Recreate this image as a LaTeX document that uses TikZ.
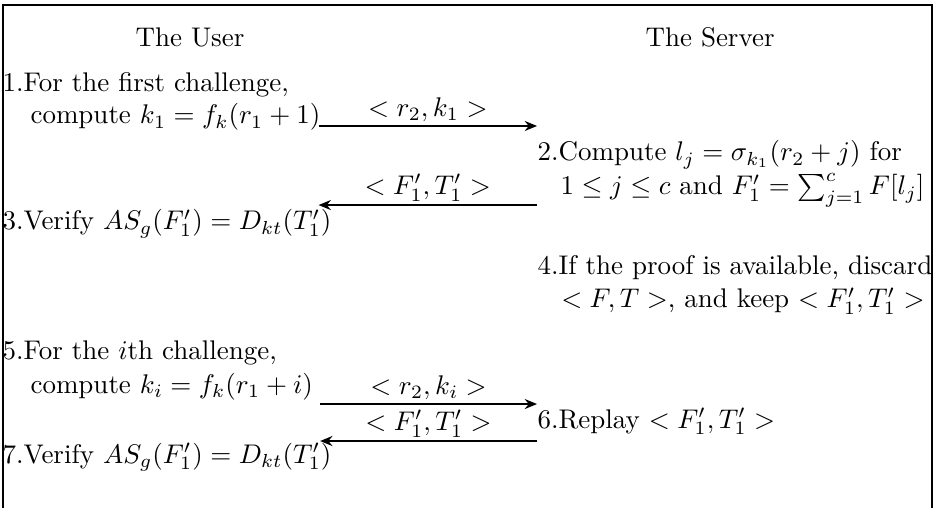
\documentclass[tikz,border=0pt]{standalone}
\usepackage{amsmath}
\usepackage{amssymb}
\usetikzlibrary{arrows.meta}

\begin{document}
\begin{tikzpicture}[
    txt/.style={inner sep=0pt, anchor=base west},
    txtr/.style={inner sep=0pt, anchor=base east},
    msg/.style={line width=0.9pt, -{Stealth[length=1.6mm,width=1.3mm]}},
    lbl/.style={above, inner sep=1pt},
    frame/.style={line width=0.7pt}]
            \useasboundingbox (0,0) rectangle (12.18,-6.618);
            % Frame (open at the bottom)
            \draw[frame] (0.039,-6.618) |- (12.142,-0.065) -- (12.142,-6.618);
            % Headings
            \node[inner sep=0pt, anchor=base] (user) at (2.475,-0.612) {The User};
            \node[inner sep=0pt, anchor=base] (server) at (9.25,-0.612) {The Server};
            % User side
            \node[txt] (u1) at (0.026,-1.186) {1.For the first challenge,};
            \node[txt] (u2) at (0.391,-1.615) {compute $k_1=f_k(r_1+1)$};
            \node[txt] (u3) at (0.026,-2.996) {3.Verify $AS_g(F'_1)=D_{kt}(T'_1)$};
            \node[txt] (u5) at (0.026,-4.677) {5.For the $i$th challenge,};
            \node[txt] (u6) at (0.391,-5.120) {compute $k_i=f_k(r_1+i)$};
            \node[txt] (u7) at (0.026,-6.032) {7.Verify $AS_g(F'_1)=D_{kt}(T'_1)$};
            % Server side
            \node[txt] (s2) at (6.996,-2.097) {2.Compute $l_j=\sigma_{k_1}(r_2+j)$ for};
            \node[txtr] (s2b) at (12.05,-2.540) {$1\leq j\leq c$ and $F'_1=\sum_{j=1}^{c}F[l_j]$};
            \node[txt] (s4) at (6.996,-3.570) {4.If the proof is available, discard};
            \node[txtr] (s4b) at (12.05,-4.012) {$<F,T>$, and keep $<F'_1,T'_1>$};
            \node[txt] (s6) at (6.996,-5.576) {6.Replay $<F'_1,T'_1>$};
            % Ends of the messages
            \coordinate (a1u) at (4.15,-1.641);
            \coordinate (a1s) at (6.996,-1.641);
            \coordinate (a2u) at (4.15,-2.671);
            \coordinate (a2s) at (6.996,-2.671);
            \coordinate (a3u) at (4.17,-5.263);
            \coordinate (a3s) at (6.996,-5.263);
            \coordinate (a4u) at (4.17,-5.745);
            \coordinate (a4s) at (6.996,-5.745);
            % Messages
            \draw[msg] (a1u) -- node[lbl] (m1) {$<r_2,k_1>$} (a1s);
            \draw[msg] (a2s) -- node[lbl] (m2) {$<F'_1,T'_1>$} (a2u);
            \draw[msg] (a3u) -- node[lbl] (m3) {$<r_2,k_i>$} (a3s);
            \draw[msg] (a4s) -- node[lbl] (m4) {$<F'_1,T'_1>$} (a4u);
        \end{tikzpicture}
\end{document}
